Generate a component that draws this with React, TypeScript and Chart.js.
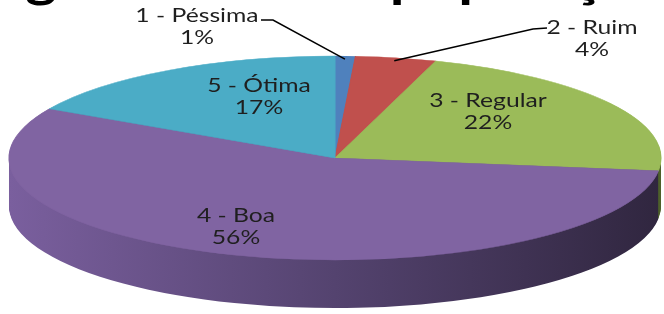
import { useEffect, useRef } from 'react';
import { Chart, registerables } from 'chart.js';

Chart.register(...registerables);

// ---- data ----
const categories = ['1 - Péssima', '2 - Ruim', '3 - Regular', '4 - Boa', '5 - Ótima'];
const percentages = [1, 4, 22, 56, 17];
const TITLE = 'Avaliação geral do SUS à população';

// ---- styles ----
const topColors = ['#4F81BD', '#C0504D', '#9BBB59', '#8064A2', '#4BACC6'];
const sideLight = ['#3c6494', '#963c3a', '#7f9c45', '#7a5f9e', '#3a8aa0'];
const sideMid = ['#2f4e74', '#78302e', '#637a36', '#54436f', '#2f7080'];
const sideDark = ['#253d5a', '#5a2523', '#4d602a', '#30263f', '#245663'];

const CX = 335;
const CY = 158;
const RX = 326;
const RY = 102;
const DEPTH = 48;
const TEXT_SX = 1.3;
const LINE_GAP = 22;
const labelPos: [number, number][] = [
  [197, 16],
  [592, 28],
  [488, 101],
  [236, 216],
  [259, 86],
];

function geom(chart: any) {
  const meta = chart.getDatasetMeta(0);
  const a0 = meta.data[0];
  const R = a0.outerRadius;
  return { meta, R, ox: a0.x, oy: a0.y, sx: RX / R, sy: RY / R };
}

const pie3d = {
  id: 'pie3d',
  beforeDatasetsDraw(chart: any) {
    const { meta, R, ox, oy, sx, sy } = geom(chart);
    const ctx = chart.ctx;
    ctx.save();
    ctx.translate(CX, CY);
    ctx.scale(sx, sy);
    ctx.translate(-ox, -oy);
    const fills = meta.data.map((_: any, i: number) => {
      const g = ctx.createLinearGradient(ox - R, 0, ox + R, 0);
      g.addColorStop(0, sideLight[i]);
      g.addColorStop(0.5, sideMid[i]);
      g.addColorStop(1, sideDark[i]);
      return g;
    });
    for (let d = DEPTH; d >= 1; d--) {
      ctx.save();
      ctx.translate(0, d / sy);
      meta.data.forEach((arc: any, i: number) => {
        const o = arc.options;
        arc.options = { ...o, backgroundColor: fills[i], borderColor: fills[i], borderWidth: 0 };
        arc.draw(ctx);
        arc.options = o;
      });
      ctx.restore();
    }
  },
  afterDatasetsDraw(chart: any) {
    chart.ctx.restore();
  },
};

function stretchedText(ctx: CanvasRenderingContext2D, text: string, x: number, y: number) {
  ctx.save();
  ctx.translate(x, y);
  ctx.scale(TEXT_SX, 1);
  ctx.fillText(text, 0, 0);
  ctx.restore();
}

const labelPlugin = {
  id: 'labels3d',
  afterDraw(chart: any) {
    const { meta, R, ox, oy, sx, sy } = geom(chart);
    const ctx: CanvasRenderingContext2D = chart.ctx;
    const data: number[] = chart.data.datasets[0].data;
    const total = data.reduce((a, b) => a + b, 0);
    const names: string[] = chart.data.labels;
    ctx.save();
    ctx.strokeStyle = '#000';
    ctx.lineWidth = 1.5;
    const leaders: Record<number, [number, number][]> = {
      0: [[261, 20], [273, 20]],
      1: [[547, 28], [533, 29]],
    };
    Object.keys(leaders).forEach((k) => {
      const i = Number(k);
      const arc = meta.data[i];
      const mid = (arc.startAngle + arc.endAngle) / 2;
      const px = ox + R * 0.97 * Math.cos(mid);
      const py = oy + R * 0.97 * Math.sin(mid);
      const ax = CX + (px - ox) * sx;
      const ay = CY + (py - oy) * sy;
      const pts = leaders[i];
      ctx.beginPath();
      ctx.moveTo(pts[0][0], pts[0][1]);
      ctx.lineTo(pts[1][0], pts[1][1]);
      ctx.lineTo(ax, ay);
      ctx.stroke();
    });
    ctx.fillStyle = '#1f1f1f';
    ctx.font = '19px Lato';
    ctx.textAlign = 'center';
    ctx.textBaseline = 'middle';
    names.forEach((name, i) => {
      const [x, y] = labelPos[i];
      stretchedText(ctx, name, x, y);
      stretchedText(ctx, Math.round((data[i] / total) * 100) + '%', x, y + LINE_GAP);
    });
    ctx.restore();
  },
};

export default function App() {
  const ref = useRef<HTMLCanvasElement>(null);
  useEffect(() => {
    document.body.style.margin = '0';
    const chart = new Chart(ref.current as HTMLCanvasElement, {
      type: 'pie',
      data: {
        labels: categories,
        datasets: [
          {
            data: percentages,
            backgroundColor: topColors,
            borderColor: topColors,
            borderWidth: 0.5,
            clip: false,
          } as any,
        ],
      },
      options: {
        responsive: false,
        animation: false,
        rotation: 0,
        layout: { padding: 0 },
        plugins: {
          legend: { display: false },
          tooltip: { enabled: false },
          title: { display: false },
        },
      },
      plugins: [pie3d, labelPlugin],
    });
    return () => chart.destroy();
  }, []);
  return (
    <div style={{ position: 'relative', width: 664, height: 314, overflow: 'hidden', background: '#fff' }}>
      <canvas ref={ref} width={664} height={314} style={{ display: 'block' }} />
      <div
        style={{
          position: 'absolute',
          left: -236,
          top: -47,
          font: 'bold 50px Lato',
          lineHeight: '50px',
          wordSpacing: '-7px',
          whiteSpace: 'nowrap',
          transform: 'scaleX(1.2)',
          transformOrigin: '0 0',
          color: '#000',
        }}
      >
        {TITLE}
      </div>
    </div>
  );
}
